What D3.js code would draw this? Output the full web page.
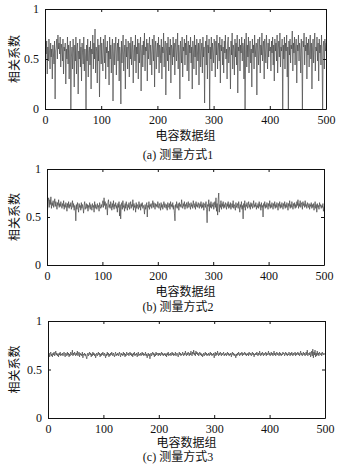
<html>
<head>
<meta charset="utf-8">
<style>
body { margin: 0; background: #fff; }
svg text { font-family: "Liberation Serif", "Times New Roman", "Noto Sans CJK SC", serif; fill: #111; }
.dataLine { fill: none; stroke: #474747; stroke-width: 0.7; }
.axis path, .axis line { stroke: #111; }
</style>
</head>
<body>
<div id="vis"></div>
<script src="https://cdn.jsdelivr.net/npm/d3@7"></script>
<script>
// x ticks and y ticks shared by all panels
var xTicks = [0, 100, 200, 300, 400, 500];
var yTicks = [0, 0.5, 1];
var xLabel = "电容数据组";
var yLabel = "相关系数";
var titles = ["(a) 测量方式1", "(b) 测量方式2", "(c) 测量方式3"];

// correlation coefficient for each capacitance data group (1..500)
var mode1 = [
0.72,0.55,0.68,0.35,0.62,0.48,0.70,0.58,0.40,0.66,0.52,0.60,0.30,0.64,0.55,0.45,0.68,0.10,0.58,0.62,0.70,0.50,0.74,0.60,0.66,
0.55,0.72,0.42,0.65,0.60,0.48,0.70,0.35,0.62,0.58,0.66,0.25,0.60,0.50,0.72,0.45,0.64,0.30,0.58,0.68,0.00,0.52,0.62,0.40,0.70,
0.56,0.22,0.64,0.48,0.72,0.35,0.60,0.66,0.15,0.58,0.50,0.70,0.42,0.62,0.28,0.66,0.55,0.45,0.72,0.38,0.60,0.52,0.00,0.64,0.48,
0.70,0.32,0.58,0.62,0.44,0.68,0.20,0.60,0.55,0.74,0.40,0.66,0.50,0.80,0.36,0.62,0.58,0.26,0.70,0.48,0.64,0.12,0.58,0.72,0.45,
0.66,0.52,0.38,0.70,0.60,0.46,0.74,0.30,0.62,0.56,0.68,0.42,0.58,0.24,0.72,0.50,0.64,0.36,0.60,0.70,0.08,0.55,0.66,0.44,0.62,
0.72,0.34,0.58,0.66,0.48,0.70,0.28,0.62,0.54,0.05,0.68,0.46,0.60,0.74,0.38,0.56,0.64,0.20,0.70,0.52,0.62,0.40,0.68,0.58,0.32,
0.66,0.50,0.72,0.44,0.60,0.68,0.26,0.58,0.64,0.48,0.74,0.36,0.62,0.55,0.70,0.30,0.66,0.46,0.60,0.72,0.18,0.58,0.64,0.42,0.68,
0.54,0.76,0.38,0.62,0.58,0.70,0.28,0.66,0.50,0.60,0.72,0.44,0.64,0.56,0.34,0.70,0.60,0.48,0.74,0.22,0.62,0.68,0.40,0.58,0.66,
0.52,0.72,0.36,0.64,0.60,0.46,0.70,0.30,0.62,0.56,0.76,0.42,0.60,0.68,0.14,0.58,0.66,0.48,0.72,0.38,0.62,0.54,0.70,0.26,0.64,
0.60,0.44,0.72,0.52,0.66,0.34,0.62,0.70,0.48,0.58,0.76,0.40,0.64,0.56,0.10,0.68,0.60,0.46,0.72,0.32,0.62,0.58,0.70,0.44,0.66,
0.54,0.74,0.38,0.60,0.68,0.28,0.64,0.56,0.72,0.46,0.62,0.20,0.68,0.58,0.40,0.74,0.52,0.64,0.34,0.70,0.60,0.48,0.66,0.24,0.62,
0.70,0.42,0.58,0.66,0.36,0.72,0.52,0.62,0.06,0.60,0.68,0.44,0.74,0.30,0.64,0.56,0.70,0.00,0.62,0.50,0.72,0.38,0.66,0.58,0.46,
0.70,0.62,0.32,0.68,0.54,0.74,0.40,0.60,0.66,0.48,0.72,0.26,0.64,0.58,0.70,0.44,0.62,0.36,0.68,0.56,0.74,0.50,0.60,0.30,0.66,
0.72,0.46,0.62,0.58,0.20,0.68,0.54,0.76,0.40,0.64,0.60,0.34,0.70,0.52,0.66,0.44,0.74,0.16,0.62,0.58,0.70,0.38,0.64,0.56,0.72,
0.48,0.66,0.62,0.30,0.70,0.00,0.58,0.76,0.42,0.64,0.52,0.72,0.36,0.62,0.68,0.46,0.60,0.22,0.70,0.56,0.64,0.40,0.74,0.52,0.60,
0.66,0.14,0.62,0.70,0.44,0.58,0.72,0.36,0.64,0.54,0.76,0.48,0.62,0.68,0.30,0.70,0.58,0.46,0.74,0.60,0.40,0.66,0.52,0.70,0.58,
0.62,0.38,0.68,0.56,0.72,0.44,0.64,0.28,0.70,0.58,0.66,0.48,0.74,0.36,0.60,0.68,0.52,0.76,0.42,0.62,0.58,0.70,0.00,0.64,0.50,
0.72,0.40,0.66,0.58,0.74,0.32,0.62,0.00,0.68,0.54,0.70,0.46,0.64,0.60,0.78,0.38,0.66,0.56,0.72,0.44,0.62,0.70,0.26,0.64,0.58,
0.74,0.48,0.66,0.60,0.36,0.70,0.56,0.00,0.68,0.62,0.76,0.44,0.64,0.58,0.72,0.30,0.66,0.54,0.70,0.42,0.62,0.74,0.50,0.66,0.20,
0.60,0.70,0.46,0.64,0.76,0.38,0.62,0.58,0.72,0.48,0.66,0.28,0.70,0.56,0.64,0.44,0.74,0.52,0.00,0.62,0.68,0.40,0.70,0.58,0.66
];

var mode2 = [
0.58,0.66,0.70,0.60,0.68,0.63,0.71,0.59,0.65,0.62,0.67,0.60,0.64,0.69,0.61,0.66,0.63,0.58,0.65,0.62,0.68,0.60,0.64,0.61,0.66,
0.62,0.59,0.64,0.61,0.67,0.58,0.63,0.60,0.65,0.62,0.56,0.64,0.60,0.66,0.59,0.63,0.61,0.65,0.58,0.62,0.67,0.60,0.64,0.57,0.62,
0.60,0.46,0.63,0.58,0.65,0.61,0.55,0.64,0.60,0.62,0.57,0.65,0.59,0.63,0.60,0.54,0.62,0.66,0.58,0.61,0.64,0.59,0.63,0.56,0.62,
0.60,0.65,0.58,0.63,0.61,0.57,0.64,0.60,0.62,0.55,0.66,0.59,0.63,0.61,0.58,0.64,0.60,0.62,0.56,0.65,0.61,0.59,0.63,0.60,0.64,
0.67,0.60,0.70,0.62,0.66,0.58,0.64,0.61,0.52,0.65,0.68,0.60,0.63,0.59,0.66,0.62,0.57,0.64,0.60,0.67,0.58,0.63,0.61,0.65,0.59,
0.62,0.55,0.64,0.60,0.66,0.51,0.63,0.48,0.61,0.65,0.58,0.67,0.60,0.62,0.56,0.64,0.59,0.66,0.61,0.57,0.63,0.60,0.65,0.58,0.62,
0.66,0.59,0.63,0.61,0.68,0.57,0.64,0.60,0.62,0.55,0.65,0.59,0.63,0.61,0.58,0.66,0.60,0.63,0.57,0.64,0.61,0.65,0.59,0.62,0.60,
0.53,0.63,0.58,0.61,0.65,0.50,0.62,0.60,0.66,0.58,0.63,0.61,0.64,0.59,0.62,0.67,0.60,0.65,0.62,0.58,0.64,0.61,0.63,0.60,0.66,
0.62,0.59,0.64,0.61,0.57,0.65,0.60,0.63,0.58,0.62,0.66,0.60,0.64,0.61,0.59,0.63,0.57,0.65,0.62,0.60,0.64,0.58,0.66,0.61,0.63,
0.60,0.65,0.58,0.62,0.54,0.46,0.63,0.60,0.66,0.59,0.62,0.64,0.57,0.65,0.61,0.63,0.60,0.68,0.62,0.59,0.64,0.61,0.66,0.58,0.63,
0.61,0.65,0.59,0.63,0.66,0.60,0.64,0.62,0.58,0.65,0.61,0.63,0.59,0.67,0.62,0.60,0.64,0.58,0.66,0.61,0.63,0.60,0.65,0.62,0.59,
0.64,0.61,0.66,0.59,0.63,0.60,0.65,0.57,0.62,0.64,0.60,0.66,0.58,0.44,0.63,0.61,0.68,0.56,0.64,0.60,0.66,0.59,0.63,0.61,0.65,
0.58,0.62,0.66,0.60,0.70,0.56,0.64,0.52,0.68,0.75,0.55,0.63,0.60,0.67,0.58,0.64,0.61,0.66,0.59,0.63,0.60,0.65,0.62,0.58,0.64,
0.61,0.66,0.59,0.63,0.60,0.65,0.58,0.62,0.64,0.60,0.67,0.59,0.63,0.61,0.57,0.65,0.60,0.62,0.64,0.59,0.66,0.61,0.55,0.63,0.60,
0.66,0.58,0.62,0.48,0.64,0.60,0.67,0.57,0.63,0.61,0.65,0.59,0.62,0.66,0.60,0.63,0.58,0.65,0.61,0.64,0.59,0.62,0.67,0.60,0.63,
0.61,0.65,0.58,0.62,0.60,0.64,0.59,0.66,0.61,0.63,0.57,0.65,0.60,0.62,0.50,0.64,0.61,0.66,0.59,0.63,0.60,0.65,0.62,0.58,0.64,
0.61,0.67,0.59,0.63,0.60,0.65,0.62,0.58,0.64,0.61,0.66,0.59,0.63,0.60,0.65,0.62,0.57,0.64,0.61,0.66,0.59,0.63,0.60,0.65,0.62,
0.58,0.64,0.61,0.66,0.59,0.63,0.60,0.65,0.62,0.57,0.64,0.61,0.67,0.59,0.63,0.60,0.66,0.62,0.58,0.64,0.61,0.65,0.59,0.63,0.60,
0.66,0.62,0.68,0.59,0.64,0.61,0.67,0.60,0.63,0.65,0.58,0.66,0.62,0.64,0.60,0.67,0.61,0.63,0.59,0.65,0.62,0.60,0.64,0.58,0.63,
0.61,0.65,0.59,0.63,0.60,0.64,0.57,0.62,0.66,0.59,0.63,0.55,0.64,0.60,0.62,0.58,0.65,0.61,0.63,0.59,0.62,0.60,0.64,0.56,0.61
];

var mode3 = [
0.64,0.67,0.63,0.66,0.68,0.64,0.66,0.63,0.67,0.65,0.68,0.64,0.66,0.69,0.65,0.67,0.64,0.66,0.63,0.67,0.65,0.68,0.64,0.66,0.65,
0.67,0.64,0.66,0.68,0.65,0.63,0.67,0.66,0.64,0.68,0.65,0.67,0.63,0.66,0.64,0.68,0.66,0.65,0.70,0.64,0.67,0.65,0.68,0.66,0.64,
0.67,0.65,0.69,0.64,0.66,0.68,0.63,0.67,0.65,0.66,0.64,0.68,0.62,0.66,0.65,0.67,0.64,0.66,0.63,0.61,0.65,0.67,0.64,0.66,0.68,
0.65,0.67,0.63,0.66,0.64,0.68,0.65,0.67,0.64,0.66,0.62,0.65,0.67,0.64,0.66,0.68,0.65,0.67,0.63,0.66,0.64,0.67,0.65,0.68,0.66,
0.64,0.67,0.65,0.62,0.66,0.64,0.68,0.65,0.67,0.63,0.66,0.64,0.67,0.65,0.68,0.66,0.64,0.67,0.65,0.63,0.66,0.68,0.64,0.66,0.65,
0.67,0.64,0.66,0.68,0.65,0.63,0.67,0.65,0.66,0.64,0.68,0.65,0.67,0.63,0.66,0.64,0.68,0.66,0.65,0.67,0.64,0.66,0.68,0.65,0.67,
0.64,0.66,0.63,0.67,0.65,0.68,0.64,0.66,0.65,0.67,0.63,0.66,0.68,0.64,0.66,0.65,0.67,0.64,0.66,0.68,0.65,0.67,0.64,0.66,0.65,
0.68,0.64,0.66,0.62,0.65,0.67,0.64,0.66,0.61,0.65,0.67,0.64,0.66,0.68,0.65,0.67,0.63,0.66,0.64,0.68,0.65,0.67,0.66,0.64,0.67,
0.65,0.67,0.64,0.66,0.68,0.65,0.67,0.64,0.66,0.65,0.67,0.64,0.66,0.63,0.67,0.65,0.68,0.64,0.66,0.65,0.67,0.64,0.66,0.68,0.65,
0.67,0.64,0.66,0.65,0.68,0.64,0.66,0.67,0.65,0.63,0.66,0.68,0.65,0.67,0.64,0.66,0.65,0.68,0.66,0.64,0.67,0.65,0.69,0.66,0.64,
0.67,0.65,0.68,0.66,0.64,0.67,0.65,0.69,0.66,0.64,0.68,0.66,0.70,0.65,0.67,0.64,0.69,0.66,0.68,0.65,0.67,0.64,0.66,0.68,0.65,
0.67,0.64,0.66,0.63,0.65,0.67,0.64,0.66,0.68,0.65,0.67,0.64,0.66,0.65,0.67,0.64,0.66,0.68,0.65,0.67,0.64,0.66,0.65,0.67,0.62,
0.66,0.68,0.64,0.67,0.65,0.69,0.66,0.64,0.67,0.65,0.68,0.66,0.64,0.67,0.65,0.66,0.68,0.64,0.66,0.65,0.67,0.64,0.66,0.68,0.65,
0.67,0.64,0.66,0.65,0.67,0.63,0.66,0.68,0.65,0.67,0.64,0.66,0.65,0.62,0.66,0.64,0.67,0.65,0.68,0.66,0.64,0.67,0.65,0.66,0.68,
0.64,0.67,0.65,0.66,0.68,0.65,0.67,0.64,0.66,0.65,0.67,0.64,0.68,0.66,0.65,0.67,0.64,0.66,0.68,0.65,0.67,0.63,0.66,0.65,0.67,
0.65,0.68,0.66,0.64,0.67,0.65,0.69,0.66,0.64,0.67,0.65,0.68,0.66,0.64,0.67,0.65,0.66,0.68,0.64,0.67,0.65,0.66,0.69,0.65,0.67,
0.64,0.66,0.68,0.65,0.67,0.64,0.66,0.69,0.65,0.67,0.64,0.66,0.68,0.65,0.67,0.66,0.64,0.68,0.65,0.67,0.64,0.66,0.65,0.68,0.66,
0.67,0.64,0.66,0.68,0.65,0.67,0.64,0.66,0.65,0.68,0.66,0.64,0.67,0.65,0.68,0.66,0.64,0.67,0.65,0.66,0.68,0.64,0.67,0.65,0.66,
0.68,0.65,0.67,0.64,0.66,0.69,0.65,0.67,0.64,0.66,0.68,0.65,0.67,0.64,0.66,0.68,0.65,0.70,0.64,0.66,0.67,0.65,0.68,0.63,0.66,
0.69,0.64,0.71,0.62,0.68,0.65,0.70,0.63,0.67,0.64,0.69,0.65,0.67,0.64,0.68,0.66,0.65,0.67,0.64,0.68,0.66,0.65,0.67,0.66,0.65
];

var series = [mode1, mode2, mode3];

// where each panel sits on the page
var panels = [
	{left: 45, right: 326, top: 9,   bottom: 109, xlabY: 27, titleY: 46},
	{left: 47, right: 324, top: 169, bottom: 265, xlabY: 27, titleY: 42},
	{left: 48, right: 325, top: 321, bottom: 418, xlabY: 25, titleY: 39}
];

var svg = d3.select("#vis").append("svg")
		.attr("width", 343)
		.attr("height", 472);

svg.append("rect").attr("width", 343).attr("height", 472).attr("fill", "#fff");

panels.forEach(function(p, i) {
	var data = series[i];

	var x = d3.scaleLinear().domain([0, 500]).range([p.left, p.right]);
	var y = d3.scaleLinear().domain([0, 1]).range([p.bottom, p.top]);

	var g = svg.append("g");

	// the series
	var line = d3.line()
			.x(function(d, k) { return x(k + 1); })
			.y(function(d) { return y(d); });

	g.append("path")
			.datum(data)
			.attr("class", "dataLine")
			.attr("d", line);

	// frame with inward ticks on all four sides
	g.append("g").attr("class", "axis")
			.attr("transform", "translate(0," + p.bottom + ")")
			.call(d3.axisBottom(x).tickValues(xTicks).tickSizeInner(-3).tickSizeOuter(0).tickPadding(6))
			.call(function(a) { a.selectAll("text").attr("font-size", 12).attr("font-family", null); });
	g.append("g").attr("class", "axis")
			.attr("transform", "translate(0," + p.top + ")")
			.call(d3.axisTop(x).tickValues(xTicks).tickSizeInner(-3).tickSizeOuter(0).tickFormat(""));
	g.append("g").attr("class", "axis")
			.attr("transform", "translate(" + p.left + ",0)")
			.call(d3.axisLeft(y).tickValues(yTicks).tickSizeInner(-3).tickSizeOuter(0).tickPadding(6).tickFormat(d3.format("")))
			.call(function(a) { a.selectAll("text").attr("font-size", 12).attr("font-family", null); });
	g.append("g").attr("class", "axis")
			.attr("transform", "translate(" + p.right + ",0)")
			.call(d3.axisRight(y).tickValues(yTicks).tickSizeInner(-3).tickSizeOuter(0).tickFormat(""));

	// labels
	g.append("text")
			.attr("x", (p.left + p.right) / 2)
			.attr("y", p.bottom + p.xlabY)
			.attr("text-anchor", "middle")
			.attr("dominant-baseline", "central")
			.attr("font-size", 12)
			.text(xLabel);

	g.append("text")
			.attr("transform", "translate(15," + (p.top + p.bottom) / 2 + ") rotate(-90)")
			.attr("text-anchor", "middle")
			.attr("dominant-baseline", "central")
			.attr("font-size", 12)
			.text(yLabel);

	g.append("text")
			.attr("x", 178)
			.attr("y", p.bottom + p.titleY)
			.attr("text-anchor", "middle")
			.attr("dominant-baseline", "central")
			.attr("font-size", 12)
			.text(titles[i]);
});
</script>
</body>
</html>
